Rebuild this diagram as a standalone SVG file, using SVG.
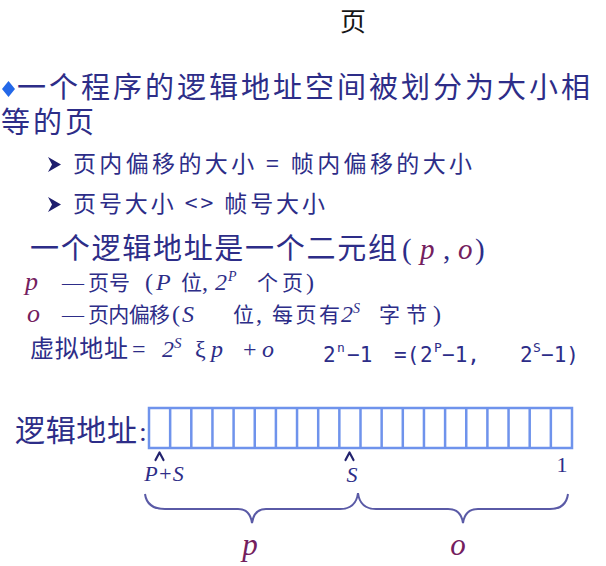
<svg xmlns="http://www.w3.org/2000/svg" width="606" height="566" viewBox="0 0 606 566">
<style>
.cjk{font-family:"Noto Sans CJK SC","Noto Sans",sans-serif;fill:#2d2d88}
.ser{font-family:"Liberation Serif",serif;fill:#2d2d88}
.it{font-style:italic}
.mar{fill:#74205e}
.mono{font-family:"DejaVu Sans Mono","Liberation Mono",monospace;fill:#2d2d88;font-size:21px}
.sup{font-family:"DejaVu Sans Mono","Liberation Mono",monospace;fill:#2d2d88;font-size:13px}
.cell{fill:none;stroke:#6f93ec;stroke-width:2.5}
.caret{fill:none;stroke:#23236e;stroke-width:2.2;stroke-linecap:round;stroke-linejoin:round}
.brace{fill:none;stroke:#5a5aa6;stroke-width:2}
</style>
<rect width="606" height="566" fill="#ffffff"/>

<g id="title">
<text x="353" y="31" text-anchor="middle" font-size="26" style="font-family:'Noto Sans CJK SC',sans-serif;fill:#161616">页</text>
</g>

<g id="bullet-main">
<polygon points="8.5,81 15,89 8.5,97 2,89" fill="#2468e8"/>
<text class="cjk" x="17" y="98" font-size="29" textLength="573" lengthAdjust="spacing">一个程序的逻辑地址空间被划分为大小相</text>
<text class="cjk" x="1" y="133" font-size="29" textLength="93" lengthAdjust="spacing">等的页</text>
</g>

<g id="sub-bullet-1">
<polygon points="48,157 61,164.5 48,172 52,164.5" fill="#1d1d6e"/>
<text class="cjk" x="73" y="172" font-size="23" textLength="399" lengthAdjust="spacing">页内偏移的大小 = 帧内偏移的大小</text>
</g>

<g id="sub-bullet-2">
<polygon points="48,197 61,204.5 48,212 52,204.5" fill="#1d1d6e"/>
<text class="cjk" x="73" y="212" font-size="23" textLength="252" lengthAdjust="spacing">页号大小 &lt;&gt; 帧号大小</text>
</g>

<g id="tuple-line">
<text class="cjk" x="30" y="259" font-size="29" textLength="367" lengthAdjust="spacing">一个逻辑地址是一个二元组</text>
<text class="ser" y="259" font-size="29"><tspan x="402">(</tspan><tspan x="420" class="it mar">p</tspan><tspan x="443">,</tspan><tspan x="458" class="it mar">o</tspan><tspan x="475">)</tspan></text>
</g>

<g id="p-line">
<text class="ser it mar" x="25" y="290" font-size="26">p</text>
<text class="ser" x="62" y="290" font-size="22">—</text>
<text class="cjk" x="88" y="290" font-size="21" textLength="42" lengthAdjust="spacing">页号</text>
<text class="ser" y="290" font-size="24"><tspan x="145">(</tspan><tspan x="156" class="it">P</tspan></text>
<text class="cjk" x="181" y="290" font-size="21">位</text>
<text class="ser" y="290" font-size="24"><tspan x="202">,</tspan><tspan x="215" class="it">2</tspan></text>
<text class="ser it" x="228" y="281" font-size="14">P</text>
<text class="cjk" x="257" y="290" font-size="21" textLength="46" lengthAdjust="spacing">个页</text>
<text class="ser" x="306" y="290" font-size="24">)</text>
</g>

<g id="o-line">
<text class="ser it mar" x="27" y="322" font-size="26">o</text>
<text class="ser" x="62" y="322" font-size="22">—</text>
<text class="cjk" x="88" y="322" font-size="21" textLength="82" lengthAdjust="spacing">页内偏移</text>
<text class="ser" y="322" font-size="24"><tspan x="172">(</tspan><tspan x="182" class="it">S</tspan></text>
<text class="cjk" x="233" y="322" font-size="21">位</text>
<text class="ser" x="256" y="322" font-size="24">,</text>
<text class="cjk" x="272" y="322" font-size="21" textLength="68" lengthAdjust="spacing">每页有</text>
<text class="ser it" x="341" y="322" font-size="24">2</text>
<text class="ser it" x="353" y="313" font-size="14">S</text>
<text class="cjk" x="379" y="322" font-size="21" textLength="48" lengthAdjust="spacing">字节</text>
<text class="ser" x="433" y="322" font-size="24">)</text>
</g>

<g id="virtual-line">
<text class="cjk" x="30" y="357" font-size="24" textLength="98" lengthAdjust="spacing">虚拟地址</text>
<text class="ser" x="132" y="357" font-size="24">=</text>
<text class="ser it" x="162" y="357" font-size="24">2</text>
<text class="ser it" x="174" y="348" font-size="15">S</text>
<text class="ser" y="357" font-size="24"><tspan x="195">ξ</tspan><tspan x="211" class="it">p</tspan><tspan x="243">+</tspan><tspan x="262" class="it">o</tspan></text>
</g>

<g id="range-line">
<text class="mono" y="362"><tspan x="323">2</tspan><tspan x="347">−1</tspan><tspan x="394">=(</tspan><tspan x="420">2</tspan><tspan x="442">−1,</tspan><tspan x="520">2</tspan><tspan x="541">−1)</tspan></text>
<text class="sup" y="352"><tspan x="337">n</tspan><tspan x="434">P</tspan><tspan x="533">S</tspan></text>
</g>

<g id="address-label">
<text class="cjk" x="15" y="441" font-size="30" textLength="122" lengthAdjust="spacing">逻辑地址</text>
<text class="ser" x="139" y="441" font-size="28">:</text>
</g>

<g id="address-register">
<rect class="cell" x="149" y="408" width="423" height="40"/>
<path class="cell" d="M170.15,408V448M191.3,408V448M212.45,408V448M233.6,408V448M254.75,408V448M275.9,408V448M297.05,408V448M318.2,408V448M339.35,408V448M360.5,408V448M381.65,408V448M402.8,408V448M423.95,408V448M445.1,408V448M466.25,408V448M487.4,408V448M508.55,408V448M529.7,408V448M550.85,408V448"/>
</g>

<g id="bit-labels">
<polyline class="caret" points="155.5,460 159.5,452.5 163.5,460"/>
<polyline class="caret" points="345.5,460 349.5,452.5 353.5,460"/>
<text class="ser it" x="164" y="481" font-size="22" text-anchor="middle">P+S</text>
<text class="ser it" x="352" y="482" font-size="22" text-anchor="middle">S</text>
<text class="ser" x="562" y="472" font-size="22" text-anchor="middle">1</text>
</g>

<g id="connectors">
<path class="brace" d="M145,494 Q147,509 165,509 L238,509 Q250,509 252,523 Q254,509 266,509 L340,509 Q356,509 358,493"/>
<path class="brace" d="M358,493 Q360,509 376,509 L448,509 Q461,509 463,523 Q465,509 478,509 L550,509 Q566,509 568,494"/>
</g>

<g id="field-labels">
<text class="ser it mar" x="250" y="555" font-size="31" text-anchor="middle">p</text>
<text class="ser it mar" x="458" y="555" font-size="31" text-anchor="middle">o</text>
</g>
</svg>
